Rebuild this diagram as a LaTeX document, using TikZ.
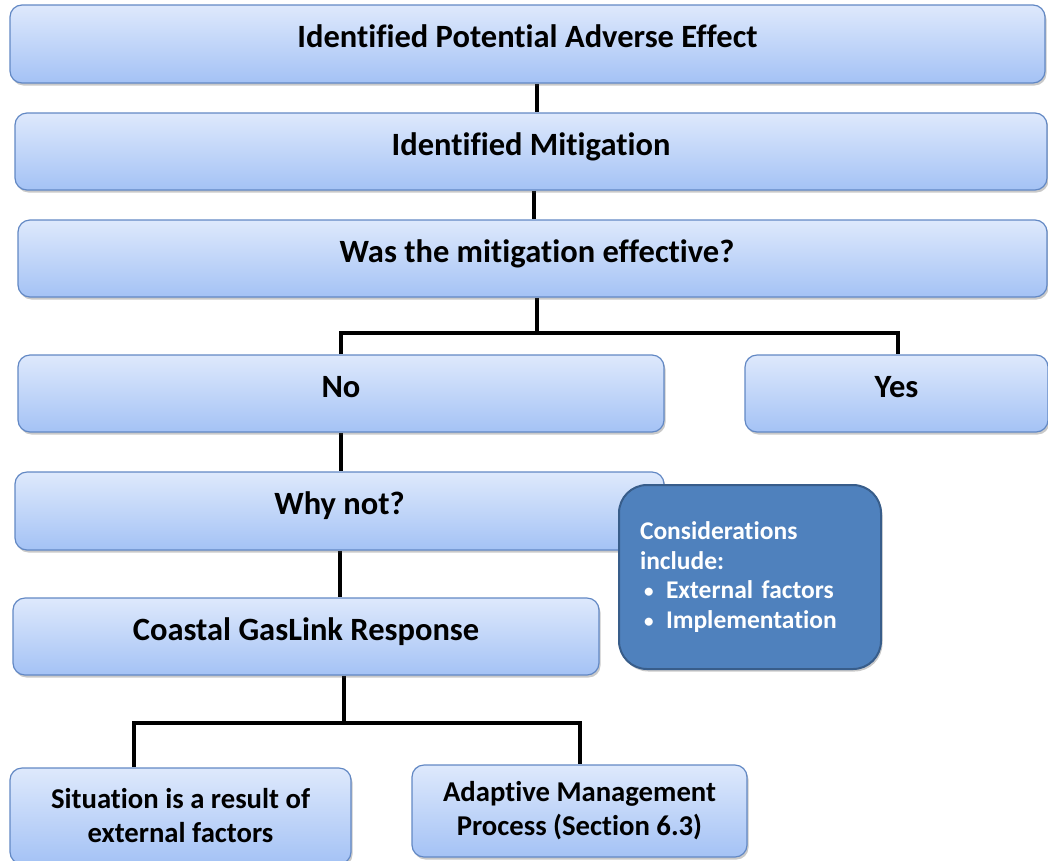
\documentclass[tikz,border=0pt]{standalone}
\usepackage{fontspec}
\setmainfont{Carlito}[Ligatures={NoCommon}]
\usetikzlibrary{shadows,backgrounds}
\definecolor{boxtop}{RGB}{222,233,252}
\definecolor{boxbot}{RGB}{164,194,245}
\definecolor{boxedge}{RGB}{98,136,196}
\definecolor{consfill}{RGB}{79,129,189}
\definecolor{consedge}{RGB}{56,93,138}
\newcommand{\smallbul}{\makebox[26pt][l]{\hspace*{4pt}\raisebox{1pt}{\fontsize{19}{19}\selectfont •}}}
\tikzset{
  flowbox/.style={draw=boxedge, line width=1.2pt, rounded corners=12pt,
    top color=boxtop, bottom color=boxbot, inner sep=0pt,
    font=\fontsize{32.5}{36}\selectfont\bfseries,
    drop shadow={shadow xshift=1.5pt, shadow yshift=-2.5pt, opacity=0.3, fill=black!70}},
  onebox/.style={flowbox, text height=24pt, text depth=17pt},
  twobox/.style={flowbox, align=center, font=\fontsize{28.7}{34}\selectfont\bfseries},
  consbox/.style={draw=consedge, line width=2pt, rounded corners=28pt, fill=consfill,
    text=white, inner sep=0pt, align=left, text width=220pt,
    font=\fontsize{25.5}{29.5}\selectfont\bfseries,
    drop shadow={shadow xshift=1.5pt, shadow yshift=-2.5pt, opacity=0.3, fill=black!70}},
  link/.style={line width=4pt, line join=miter, draw=black}
}
\begin{document}
\begin{tikzpicture}[x=1pt,y=-1pt]
\useasboundingbox (0,0) rectangle (1048,860);
\node[onebox, minimum width=1035pt, minimum height=78pt] (b1) at (527.5,44) {Identified Potential Adverse Effect};
\node[onebox, minimum width=1032pt, minimum height=77pt] (b2) at (531,151.5) {Identified Mitigation};
\node[onebox, minimum width=1029pt, minimum height=77pt] (b3) at (532.5,258.5) {\hspace*{9pt}Was the mitigation effective?};
\node[onebox, minimum width=646pt, minimum height=77pt] (no) at (341,393.5) {No};
\node[onebox, minimum width=303pt, minimum height=77pt] (yes) at (896.5,393.5) {Yes};
\node[onebox, minimum width=649pt, minimum height=78pt] (why) at (339.5,511) {Why not?};
\node[onebox, minimum width=586pt, minimum height=77pt] (co) at (306,636.5) {Coastal GasLink Response};
\node[twobox, minimum width=341pt, minimum height=96pt] (sit) at (180.5,816) {Situation is a result of\\external factors};
\node[twobox, minimum width=335pt, minimum height=92pt] (ad) at (579.5,811) {Adaptive Management\\Process (Section 6.3)};
\node[consbox, minimum width=262pt, minimum height=184pt] (cons) at (750,577)
  {Considerations\\include:\\\smallbul External factors\\\smallbul Implementation};
\begin{scope}[on background layer]
\draw[link] ([xshift=9.5pt]b1.south) -- ([xshift=9.5pt]b1.south |- b2.north);
\draw[link] ([xshift=3pt]b2.south) -- ([xshift=3pt]b2.south |- b3.north);
\draw[link] ([xshift=4.5pt]b3.south) -- ++(0,35) coordinate (j1);
\draw[link] (no.north) |- (j1) -| ([xshift=1.5pt]yes.north);
\draw[link] (no.south) -- (no.south |- why.north);
\draw[link] (why.south) -- (why.south |- co.north);
\draw[link] ([xshift=38pt]co.south) -- ++(0,47) coordinate (j2);
\draw[link] ([xshift=-46.5pt]sit.north) |- (j2) -| (ad.north);
\end{scope}
\end{tikzpicture}
\end{document}
